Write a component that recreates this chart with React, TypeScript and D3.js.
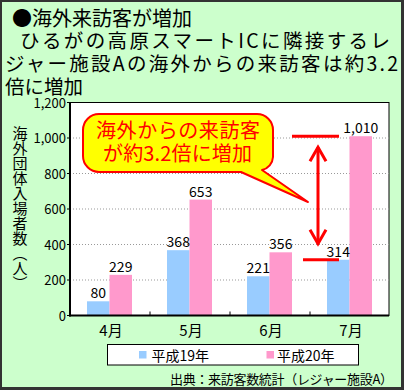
import React from "react";
import * as d3 from "d3";

const months = ["4月", "5月", "6月", "7月"];
const seriesNames = ["平成19年", "平成20年"];
const h19 = [80, 368, 221, 314];
const h20 = [229, 653, 356, 1010];
const yTicks = [0, 200, 400, 600, 800, 1000, 1200];
const colors = ["#99CCFF", "#FF99CC"];
const titleLines = [
  "●海外来訪客が増加",
  "ひるがの高原スマートICに隣接するレ",
  "ジャー施設Aの海外からの来訪客は約3.2",
  "倍に増加",
];
const calloutLines = ["海外からの来訪客", "が約3.2倍に増加"];
const yTitle = "海外団体入場者数（人）";
const sourceText = "出典：来訪客数統計（レジャー施設A）";

const W = 404;
const H = 390;
const FONT = "'Noto Sans CJK JP', 'Noto Sans', sans-serif";

export default function App() {
  const plot = { left: 70, right: 389, top: 102.5, bottom: 315.5 };
  const x0 = d3.scaleBand<string>().domain(months).range([plot.left, plot.left + 320]).padding(0);
  const x1 = d3.scaleBand<string>().domain(seriesNames).range([17, 62]).padding(0);
  const y = d3.scaleLinear().domain([0, 1200]).range([plot.bottom, plot.top]);
  const data = [h19, h20];

  const yTop = y(h20[3]);
  const yBot = y(h19[3]);
  const ax = 318;

  return (
    <svg width={W} height={H} style={{ position: "absolute", left: 0, top: 0 }} fontFamily={FONT}>
      <rect x={0} y={0} width={W} height={H} fill="#CCFFCC" />
      <rect x={1} y={1} width={W - 2.5} height={H - 3} fill="none" stroke="#333" strokeWidth={2} />
      <line x1={0} x2={W} y1={H - 1.5} y2={H - 1.5} stroke="#333" strokeWidth={3} />
      <line x1={W - 1.5} x2={W - 1.5} y1={0} y2={H} stroke="#333" strokeWidth={3} />

      {/* title */}
      <text x={12} y={26} fontSize={20}>{titleLines[0]}</text>
      <text x={20} y={48} fontSize={19.5} textLength={370} lengthAdjust="spacing">{titleLines[1]}</text>
      <text x={5} y={71} fontSize={19.5} textLength={393} lengthAdjust="spacing">{titleLines[2]}</text>
      <text x={5} y={94} fontSize={19.5}>{titleLines[3]}</text>

      {/* plot area */}
      <rect x={plot.left} y={plot.top} width={plot.right - plot.left} height={plot.bottom - plot.top} fill="#fff" stroke="#000" strokeWidth={1} />
      {yTicks.filter((t) => t > 0 && t < 1200).map((t) => (
        <line key={t} x1={plot.left} x2={plot.right} y1={y(t)} y2={y(t)} stroke="#999" strokeDasharray="1,2" />
      ))}
      {months.map((m, i) =>
        data.map((s, j) => (
          <rect
            key={m + j}
            x={(x0(m) as number) + (x1(seriesNames[j]) as number)}
            y={y(s[i])}
            width={x1.bandwidth()}
            height={plot.bottom - y(s[i])}
            fill={colors[j]}
          />
        ))
      )}
      {months.map((m, i) =>
        data.map((s, j) => (
          <text
            key={"v" + m + j}
            x={(x0(m) as number) + (x1(seriesNames[j]) as number) + x1.bandwidth() / 2}
            y={y(s[i]) - 3}
            fontSize={14}
            textAnchor="middle"
          >
            {d3.format(",")(s[i])}
          </text>
        ))
      )}
      <line x1={plot.left} x2={plot.left} y1={plot.top} y2={plot.bottom + 1} stroke="#000" strokeWidth={2} />
      <line x1={plot.left - 1} x2={plot.right} y1={plot.bottom} y2={plot.bottom} stroke="#000" strokeWidth={2} />
      {months.slice(1).map((m) => (
        <line key={"t" + m} x1={x0(m)} x2={x0(m)} y1={plot.bottom} y2={plot.bottom - 4} stroke="#000" />
      ))}
      {yTicks.map((t) => (
        <g key={"yt" + t}>
          <line x1={plot.left - 3} x2={plot.left} y1={y(t)} y2={y(t)} stroke="#000" />
          <text x={plot.left - 4} y={y(t) + 5} fontSize={13} textAnchor="end">
            {d3.format(",")(t)}
          </text>
        </g>
      ))}
      {months.map((m) => (
        <text key={"xl" + m} x={(x0(m) as number) + x0.bandwidth() / 2 + 1} y={336} fontSize={15} textAnchor="middle">
          {m}
        </text>
      ))}

      {/* y title */}
      <text x={20} y={126} fontSize={15} style={{ writingMode: "vertical-rl" }}>{yTitle}</text>

      {/* callout */}
      <path
        d="M99,114 H257 A16,16 0 0 1 273,130 V157 A14,14 0 0 1 262,170 L308,202 L241,172 H99 A16,16 0 0 1 83,156 V130 A16,16 0 0 1 99,114 Z"
        fill="#FFFF00"
        stroke="#FF0000"
        strokeWidth={2}
        strokeLinejoin="round"
      />
      <text x={178} y={137.5} fontSize={20} fill="#FF0000" textAnchor="middle" textLength={164} lengthAdjust="spacing">
        {calloutLines[0]}
      </text>
      <text x={177.5} y={161} fontSize={20} fill="#FF0000" textAnchor="middle" textLength={149} lengthAdjust="spacing">
        {calloutLines[1]}
      </text>

      {/* annotation */}
      <g stroke="#FF0000" strokeWidth={3} fill="none" strokeLinecap="butt">
        <line x1={292} x2={339} y1={yTop} y2={yTop} />
        <line x1={303} x2={339} y1={yBot} y2={yBot} />
        <line x1={ax} x2={ax} y1={yTop + 11} y2={yBot - 16} />
        <polyline points={`${ax - 8},${yTop + 25} ${ax},${yTop + 11} ${ax + 8},${yTop + 25}`} />
        <polyline points={`${ax - 8},${yBot - 30} ${ax},${yBot - 16} ${ax + 8},${yBot - 30}`} />
      </g>

      {/* legend */}
      <rect x={107.5} y={344.5} width={251} height={20.5} fill="#fff" stroke="#000" />
      {seriesNames.map((s, j) => (
        <g key={"lg" + s}>
          <rect x={j === 0 ? 139 : 266.5} y={351} width={7.5} height={7.5} fill={colors[j]} />
          <text x={j === 0 ? 151.5 : 277} y={361} fontSize={14}>{s}</text>
        </g>
      ))}

      <text x={393} y={384} fontSize={13} textAnchor="end" textLength={223} lengthAdjust="spacing">{sourceText}</text>
    </svg>
  );
}
